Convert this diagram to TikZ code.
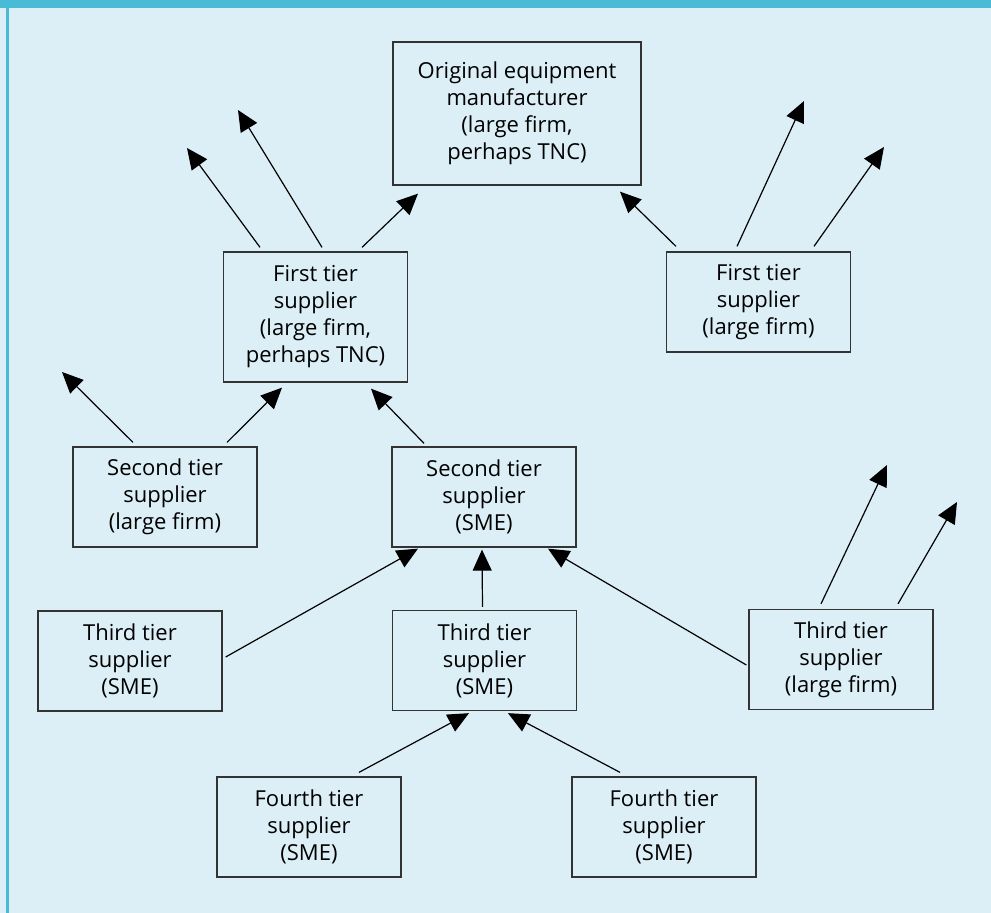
\documentclass[tikz,border=0pt]{standalone}
\usepackage{fontspec}
\setmainfont{Open Sans}
\usepackage{tikz}
\usetikzlibrary{arrows.meta}
\definecolor{chainsky}{HTML}{DCEFF6}
\definecolor{chainband}{HTML}{4ABBD7}
\definecolor{chainline}{HTML}{333333}
\tikzset{
  supbox/.style={
    draw=chainline,
    line width=1.3pt,
    minimum width=184pt,
    minimum height=100pt,
    inner sep=0pt,
    align=center,
    font=\fontsize{22}{27}\selectfont
  },
  oembox/.style={
    supbox,
    minimum width=248pt,
    minimum height=143pt
  },
  arrow/.style={
    -{Triangle[length=21pt,width=19pt]},
    line width=1.2pt,
    draw=black
  }
}
\begin{document}
\begin{tikzpicture}[x=1pt,y=-1pt]
\useasboundingbox (0,0) rectangle (991,913);
\fill[chainsky] (0,0) rectangle (991,913);
\fill[chainband] (0,0) rectangle (991,8);
\fill[chainband] (6,8) rectangle (9,913);

\node[oembox] (oem) at (517,113.5) {Original equipment\\manufacturer\\(large firm,\\perhaps TNC)};
\node[supbox, minimum height=130pt] (t1l) at (315.5,317) {First tier\\supplier\\(large firm,\\perhaps TNC)};
\node[supbox] (t1r) at (758.5,302) {First tier\\supplier\\(large firm)};
\node[supbox] (t2l) at (165,497) {Second tier\\supplier\\(large firm)};
\node[supbox] (t2m) at (484,497) {Second tier\\supplier\\(SME)};
\node[supbox] (t3l) at (130,661) {Third tier\\supplier\\(SME)};
\node[supbox] (t3m) at (484.5,660.5) {Third tier\\supplier\\(SME)};
\node[supbox] (t3r) at (841,659.5) {Third tier\\supplier\\(large firm)};
\node[supbox] (t4l) at (309,827) {Fourth tier\\supplier\\(SME)};
\node[supbox] (t4r) at (664,827) {Fourth tier\\supplier\\(SME)};

\coordinate (outA) at (187,148);
\coordinate (outB) at (238,110);
\coordinate (outC) at (804,101);
\coordinate (outD) at (884,147);
\coordinate (outE) at (62,372);
\coordinate (outF) at (887,465);
\coordinate (outG) at (957,502);

\draw[arrow] ([xshift=-55.5pt,yshift=4pt]t1l.north) -- (outA);
\draw[arrow] ([xshift=6.5pt,yshift=4pt]t1l.north) -- (outB);
\draw[arrow] ([xshift=46.5pt,yshift=4pt]t1l.north) -- ([xshift=-99pt,yshift=-8pt]oem.south);
\draw[arrow] ([xshift=-82.5pt,yshift=5pt]t1r.north) -- ([xshift=103pt,yshift=-6pt]oem.south);
\draw[arrow] ([xshift=-21.5pt,yshift=5pt]t1r.north) -- (outC);
\draw[arrow] ([xshift=55.5pt,yshift=5pt]t1r.north) -- (outD);
\draw[arrow] ([xshift=-32pt,yshift=4pt]t2l.north) -- (outE);
\draw[arrow] ([xshift=62pt,yshift=4pt]t2l.north) -- ([xshift=-33.5pt,yshift=-5pt]t1l.south);
\draw[arrow] ([xshift=-60pt,yshift=3pt]t2m.north) -- ([xshift=55.5pt,yshift=-6pt]t1l.south);
\draw[arrow] ([xshift=3pt,yshift=4pt]t3l.east) -- ([xshift=-66pt,yshift=-1pt]t2m.south);
\draw[arrow] ([xshift=-2pt,yshift=3pt]t3m.north) -- ([xshift=-2pt,yshift=-2pt]t2m.south);
\draw[arrow] ([xshift=-2pt,yshift=-5.5pt]t3r.west) -- ([xshift=64pt,yshift=-1pt]t2m.south);
\draw[arrow] ([xshift=-20pt,yshift=5pt]t3r.north) -- (outF);
\draw[arrow] ([xshift=57pt,yshift=5pt]t3r.north) -- (outG);
\draw[arrow] ([xshift=50pt,yshift=4pt]t4l.north) -- ([xshift=-15.5pt,yshift=-2pt]t3m.south);
\draw[arrow] ([xshift=-44pt,yshift=4pt]t4r.north) -- ([xshift=23.5pt,yshift=-2pt]t3m.south);
\end{tikzpicture}
\end{document}
